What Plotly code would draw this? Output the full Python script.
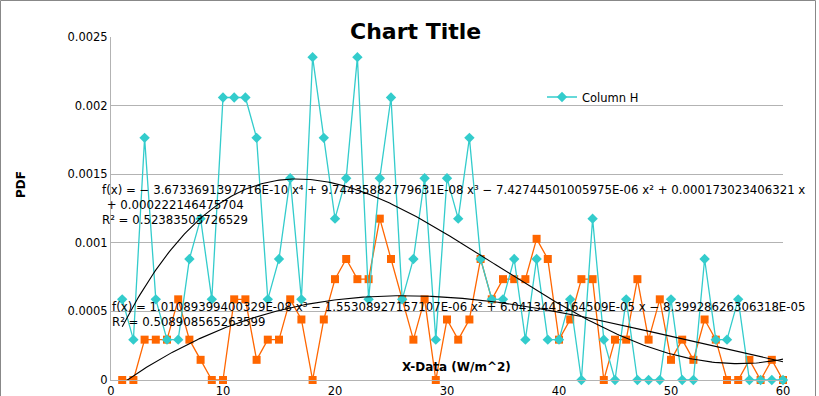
import numpy as np
import plotly.graph_objects as go

# ---- data ----
x_vals = list(range(1, 61))
col_h = [0.000588, 0.000294, 0.001765, 0.000588, 0.000294, 0.000294, 0.000882, 0.001176, 0.000588, 0.002059,
         0.002059, 0.002059, 0.001765, 0.000588, 0.000882, 0.001471, 0.000588, 0.002353, 0.001765, 0.001176,
         0.001471, 0.002353, 0.000588, 0.001471, 0.002059, 0.000588, 0.000882, 0.001471, 0.000294, 0.001471,
         0.001176, 0.001765, 0.000882, 0.000588, 0.000588, 0.000882, 0.000294, 0.000882, 0.000294, 0.000294,
         0.000588, 0.0, 0.001176, 0.000294, 0.0, 0.000588, 0.0, 0.0, 0.0, 0.000588,
         0.0, 0.0, 0.000882, 0.000294, 0.000294, 0.000588, 0.0, 0.0, 0.0, 0.0]
col_o = [0.0, 0.0, 0.000294, 0.000294, 0.000294, 0.000588, 0.000294, 0.000147, 0.0, 0.0,
         0.000588, 0.000588, 0.000147, 0.000294, 0.000294, 0.000588, 0.000441, 0.0, 0.000441, 0.000735,
         0.000882, 0.000735, 0.000735, 0.001176, 0.000882, 0.000588, 0.000294, 0.000588, 0.0, 0.000441,
         0.000294, 0.000441, 0.000882, 0.000588, 0.000735, 0.000735, 0.000735, 0.001029, 0.000882, 0.000294,
         0.000441, 0.000735, 0.000735, 0.0, 0.000294, 0.000294, 0.000735, 0.000294, 0.000588, 0.000147,
         0.000294, 0.000147, 0.000441, 0.000294, 0.0, 0.0, 0.000147, 0.0, 0.000147, 0.0]
# trendline coefficients shown on chart (highest power first)
coef_h = [-3.6733691397716E-10, 9.74435882779631E-08, -7.42744501005975E-06, 0.000173023406321, 0.000222146475704]
coef_o = [1.01089399400329E-08, -1.55308927157107E-06, 6.0413441164509E-05, -8.39928626306318E-05]
eq_h = ["f(x) = − 3.6733691397716E-10 x⁴ + 9.74435882779631E-08 x³ − 7.42744501005975E-06 x² + 0.000173023406321 x",
        " + 0.000222146475704",
        "R² = 0.52383503726529"]
eq_o = ["f(x) = 1.01089399400329E-08 x³ − 1.55308927157107E-06 x² + 6.0413441164509E-05 x − 8.39928626306318E-05",
        "R² = 0.508908565263599"]
y_ticks = [0, 0.0005, 0.001, 0.0015, 0.002, 0.0025]
y_ticktext = ["0", "0.0005", "0.001", "0.0015", "0.002", "0.0025"]
x_ticks = [0, 10, 20, 30, 40, 50, 60]

W, H = 819, 396
L, R, T, B = 111, 783, 37, 380
FONT = "DejaVu Sans"

def xp(px):
    return (px - L) / (R - L)

def yp(py):
    return (B - py) / (B - T)

CYAN = "#33cccc"
ORANGE = "#ff6600"

xs = np.linspace(min(x_vals), max(x_vals), 300)
fit_h = np.polyval(coef_h, xs)
fit_o = np.polyval(coef_o, xs)

fig = go.Figure()
fig.add_trace(go.Scatter(x=x_vals, y=col_o, mode="lines+markers", showlegend=False,
                         line=dict(color=ORANGE, width=1.3),
                         marker=dict(symbol="square", size=8, color=ORANGE), cliponaxis=False))
fig.add_trace(go.Scatter(x=x_vals, y=col_h, mode="lines+markers", name="Column H",
                         line=dict(color=CYAN, width=1.3),
                         marker=dict(symbol="diamond", size=8, color=CYAN), cliponaxis=False))
fig.add_trace(go.Scatter(x=xs, y=fit_h, mode="lines", showlegend=False,
                         line=dict(color="black", width=1.1), hoverinfo="skip"))
fig.add_trace(go.Scatter(x=xs, y=fit_o, mode="lines", showlegend=False,
                         line=dict(color="black", width=1.1), hoverinfo="skip"))

ann = []
ann.append(dict(text="<b>Chart Title</b>", x=xp(415), y=yp(31), xref="paper", yref="paper",
                xanchor="center", yanchor="middle", showarrow=False,
                font=dict(family=FONT, size=22, color="black")))
ann.append(dict(text="<b>X-Data (W/m^2)</b>", x=xp(457), y=yp(367), xref="paper", yref="paper",
                xanchor="center", yanchor="middle", showarrow=False,
                font=dict(family=FONT, size=12, color="black")))
ann.append(dict(text="<b>PDF</b>", x=xp(21), y=yp(185), xref="paper", yref="paper",
                xanchor="center", yanchor="middle", showarrow=False, textangle=-90,
                font=dict(family=FONT, size=12, color="black")))
eq_pos = [(100, 190), (101, 205), (100, 220)]
for t, (px, py) in zip(eq_h, eq_pos):
    ann.append(dict(text=t, x=xp(px), y=yp(py), xref="paper", yref="paper",
                    xanchor="left", yanchor="middle", showarrow=False,
                    font=dict(family=FONT, size=11.75, color="black")))
eq_pos2 = [(110, 307), (110, 322)]
for t, (px, py) in zip(eq_o, eq_pos2):
    ann.append(dict(text=t, x=xp(px), y=yp(py), xref="paper", yref="paper",
                    xanchor="left", yanchor="middle", showarrow=False,
                    font=dict(family=FONT, size=11.75, color="black")))

shapes = [
    dict(type="line", xref="paper", yref="paper", x0=xp(0.5), x1=xp(0.5), y0=yp(0.5), y1=yp(400),
         line=dict(color="#888888", width=1)),
    dict(type="line", xref="paper", yref="paper", x0=xp(0.5), x1=xp(815.5), y0=yp(0.5), y1=yp(0.5),
         line=dict(color="#888888", width=1)),
    dict(type="line", xref="paper", yref="paper", x0=xp(815.5), x1=xp(815.5), y0=yp(0.5), y1=yp(400),
         line=dict(color="#888888", width=1)),
]

fig.update_layout(
    width=W, height=H,
    margin=dict(l=L, r=W - R, t=T, b=H - B, autoexpand=False),
    paper_bgcolor="white", plot_bgcolor="white",
    font=dict(family=FONT, size=11, color="black"),
    annotations=ann, shapes=shapes,
    showlegend=True,
    legend=dict(x=xp(542), y=yp(97), xanchor="left", yanchor="middle", bgcolor="rgba(0,0,0,0)",
                font=dict(family=FONT, size=11.5, color="black"), itemwidth=30),
    xaxis=dict(range=[0, 60], tickvals=x_ticks, showgrid=False, zeroline=False,
               showline=True, linecolor="#b3b3b3", linewidth=1, ticks="", automargin=False,
               tickfont=dict(family=FONT, size=11.5)),
    yaxis=dict(range=[0, 0.0025], tickvals=y_ticks, ticktext=y_ticktext, showgrid=True,
               gridcolor="#b3b3b3", gridwidth=1, zeroline=False,
               showline=True, linecolor="#b3b3b3", linewidth=1, ticks="", automargin=False,
               tickfont=dict(family=FONT, size=11.5)),
)

fig.write_html("out.html", config={"displayModeBar": False},
               post_script="document.body.style.margin='0px';document.body.style.overflow='hidden';")
